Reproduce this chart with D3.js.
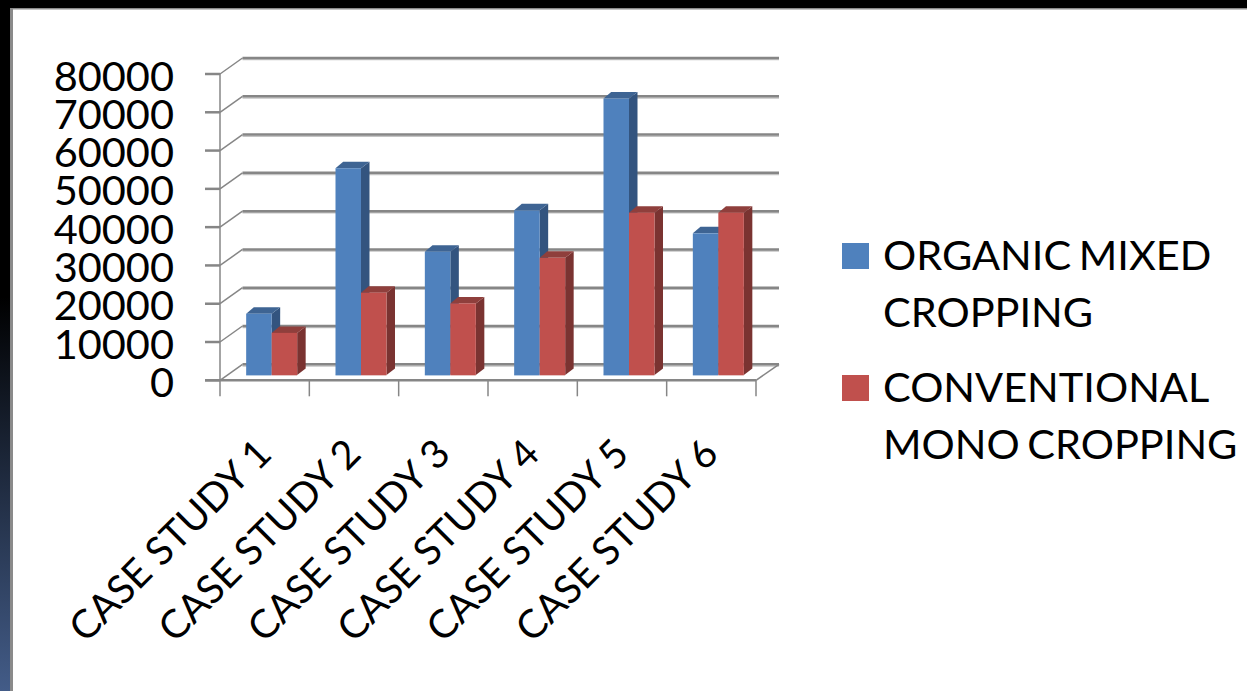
<!DOCTYPE html>
<html>
<head>
<meta charset="utf-8">
<script src="https://cdn.jsdelivr.net/npm/d3@7"></script>
<style>
  html, body { margin: 0; padding: 0; background: #fff; }
  svg { display: block; }
  text { font-family: Lato, "Open Sans", sans-serif; fill: #000; }
</style>
</head>
<body>
<svg id="chart" width="1247" height="691"></svg>
<script>
// Yield per case study, two cropping systems
const categories = ["CASE STUDY 1", "CASE STUDY 2", "CASE STUDY 3", "CASE STUDY 4", "CASE STUDY 5", "CASE STUDY 6"];
const organicMixed = [16000, 54000, 32200, 43000, 72200, 37000];
const conventionalMono = [11000, 21500, 18700, 30600, 42400, 42400];
const yTicks = [0, 10000, 20000, 30000, 40000, 50000, 60000, 70000, 80000];
const seriesNames = ["ORGANIC MIXED CROPPING", "CONVENTIONAL MONO CROPPING"];
const legendLines = [["ORGANIC MIXED", "CROPPING"], ["CONVENTIONAL", "MONO CROPPING"]];

const W = 1247, H = 691;
const svg = d3.select("#chart");
const defs = svg.append("defs");

// Slide backdrop: dark frame with a gradient down the left edge
const grad = defs.append("linearGradient").attr("id", "edge")
  .attr("gradientUnits", "userSpaceOnUse")
  .attr("x1", 0).attr("x2", 0).attr("y1", 0).attr("y2", H);
grad.append("stop").attr("offset", "0.43").attr("stop-color", "#000");
grad.append("stop").attr("offset", "1").attr("stop-color", "#435c88");

svg.append("rect").attr("width", W).attr("height", 8).attr("fill", "#000");
svg.append("rect").attr("width", 10).attr("height", H).attr("fill", "url(#edge)");
svg.append("rect").attr("x", 10).attr("y", 8).attr("width", W - 10).attr("height", 1.5).attr("fill", "#8a8a8a");
svg.append("rect").attr("x", 10).attr("y", 8).attr("width", 3).attr("height", H - 8).attr("fill", "#8a8a8a");

// Scales
const x = d3.scaleBand().domain(categories).range([220, 756]);
const y = d3.scaleLinear().domain([0, 80000]).range([380.3, 74]);

// Projection of the 3D box: back wall offset, floor inset of bars, bar depth
const wall = { dx: 22.5, dy: -16 };
const inset = { dx: 7, dy: -5.3 };
const depth = { dx: 8.5, dy: -6.5 };
const groupW = 51;
const barW = groupW / 2;

const axisColor = "#868686";
const grid = svg.append("g").attr("fill", "none").attr("stroke", axisColor).attr("stroke-width", 2);

// Back-wall gridlines with their soft highlight, plus the wall diagonals
yTicks.forEach(t => {
  const yf = y(t), yb = yf + wall.dy;
  grid.append("line").attr("x1", 220 + wall.dx).attr("x2", 779)
    .attr("y1", yb + 1.6).attr("y2", yb + 1.6).attr("stroke", "#c4c4c4").attr("stroke-width", 1.5);
  grid.append("line").attr("x1", 220 + wall.dx).attr("x2", 779).attr("y1", yb).attr("y2", yb).attr("stroke-width", 2.5);
  grid.append("line").attr("x1", 220).attr("x2", 220 + wall.dx).attr("y1", yf).attr("y2", yb).attr("stroke-width", 1.5);
  grid.append("line").attr("x1", 205).attr("x2", 220).attr("y1", yf).attr("y2", yf).attr("stroke-width", 2.5);
});

// Left wall edge, front floor edge, right floor edge and category ticks
grid.append("line").attr("x1", 220).attr("x2", 220).attr("y1", y(80000)).attr("y2", y(0) + 16).attr("stroke-width", 1.5);
grid.append("line").attr("x1", 205).attr("x2", 756).attr("y1", y(0)).attr("y2", y(0)).attr("stroke-width", 2.5);
grid.append("line").attr("x1", 756).attr("x2", 779).attr("y1", y(0)).attr("y2", y(0) + wall.dy).attr("stroke-width", 1.5);
categories.forEach(c => {
  const xt = x(c) + x.bandwidth();
  grid.append("line").attr("x1", xt).attr("x2", xt).attr("y1", y(0)).attr("y2", y(0) + 16).attr("stroke-width", 1.5);
});

// One extruded bar: side and top first, then the front face
const palette = [
  { front: "#4f81bd", side: "#33547f", top: "#3e6493", edge: "#b9cde4" },
  { front: "#c0504d", side: "#7a3331", top: "#8f3f3c", edge: "#e6c4c3" }
];
function drawBar(g, left, value, colors) {
  const base = y(0) + inset.dy;
  const topY = base - (y(0) - y(value));
  const right = left + barW;
  const path = pts => d3.line()(pts) + "Z";
  g.append("path").attr("fill", colors.side).attr("d", path([
    [right, topY], [right + depth.dx, topY + depth.dy], [right + depth.dx, base + depth.dy], [right, base]
  ]));
  g.append("path").attr("fill", colors.top).attr("d", path([
    [left, topY], [left + depth.dx * 0.9, topY + depth.dy], [right + depth.dx, topY + depth.dy], [right, topY]
  ]));
  g.append("rect").attr("x", left).attr("y", base - 0.5).attr("width", barW).attr("height", 1.5).attr("fill", colors.edge);
  g.append("rect").attr("x", left).attr("y", topY).attr("width", barW).attr("height", base - topY).attr("fill", colors.front);
}

const bars = svg.append("g");
categories.forEach((c, i) => {
  const g = bars.append("g");
  const left = x(c) + (x.bandwidth() - groupW) / 2 + inset.dx;
  drawBar(g, left, organicMixed[i], palette[0]);
  drawBar(g, left + barW, conventionalMono[i], palette[1]);
});

// Value axis labels
svg.append("g").selectAll("text").data(yTicks).join("text")
  .attr("x", 174).attr("y", d => y(d) + 16.5)
  .attr("text-anchor", "end").attr("font-size", 41.5)
  .text(d => d);

// Slanted category labels, anchored at the end of each word
svg.append("g").selectAll("text").data(categories).join("text")
  .attr("text-anchor", "end").attr("font-size", 39.5)
  .attr("transform", d => `translate(${x(d) + x.bandwidth() / 2 + 9},${456}) rotate(-45)`)
  .text(d => d);

// Legend
const legendTop = [243, 375];
const legend = svg.append("g");
seriesNames.forEach((name, i) => {
  legend.append("rect").attr("x", 842).attr("y", legendTop[i]).attr("width", 27).attr("height", 26).attr("fill", palette[i].front);
  legendLines[i].forEach((line, j) => {
    legend.append("text").attr("x", 883).attr("y", legendTop[i] + 27 + j * 57)
      .attr("font-size", 41.5).attr("word-spacing", -3).text(line);
  });
});
</script>
</body>
</html>
